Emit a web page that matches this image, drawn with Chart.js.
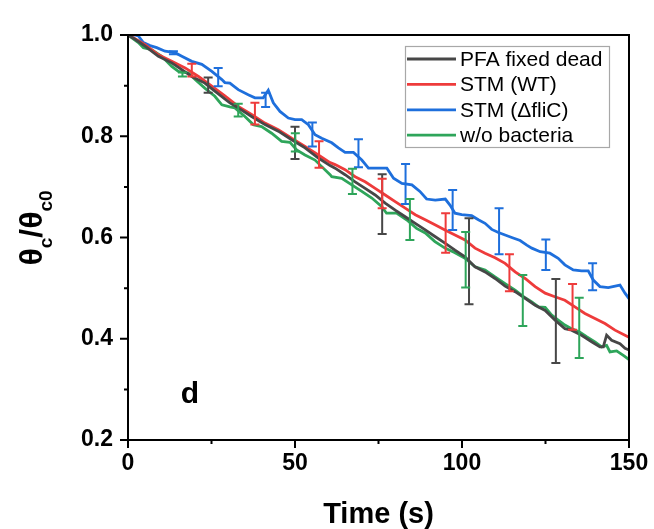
<!DOCTYPE html>
<html>
<head>
<meta charset="utf-8">
<script src="https://cdn.jsdelivr.net/npm/chart.js@4.4.1/dist/chart.umd.min.js"></script>
<style>
  html, body { margin: 0; padding: 0; background: #fff; }
  #wrap { width: 654px; height: 529px; }
</style>
</head>
<body>
<div id="wrap"><canvas id="chart" width="654" height="529"></canvas></div>
<script>
// series (time in s, theta_c / theta_c0)
const seriesLabels = ["PFA fixed dead", "STM (WT)", "STM (\u0394fliC)", "w/o bacteria"];
const seriesColors = ["#474747", "#ee3b3b", "#1e6fdc", "#2ea55a"];

const blackT = [0, 2, 5.1, 9.1, 13.1, 16, 19.1, 23, 26, 30.5, 33, 37, 41, 45, 49, 53, 57, 60.5, 62, 65, 68, 71, 74, 77, 80, 83, 86, 89, 91.9, 94.9, 97.9, 100.9, 103.9, 106.9, 109.9, 112.9, 115.9, 118.9, 121.9, 124.9, 127.8, 130.8, 132.8, 135.8, 138.8, 141.3, 142.3, 143.3, 144.8, 147.3, 148.8, 150];
const blackV = [1.0, 0.992, 0.978, 0.958, 0.945, 0.932, 0.918, 0.905, 0.889, 0.866, 0.856, 0.839, 0.823, 0.810, 0.793, 0.777, 0.757, 0.742, 0.737, 0.724, 0.710, 0.697, 0.684, 0.668, 0.654, 0.641, 0.628, 0.615, 0.602, 0.589, 0.575, 0.562, 0.542, 0.532, 0.519, 0.504, 0.493, 0.480, 0.466, 0.456, 0.437, 0.420, 0.417, 0.407, 0.394, 0.384, 0.384, 0.407, 0.397, 0.390, 0.381, 0.378];

const redT = [0, 2, 5.1, 9.1, 13.1, 17.1, 21.1, 25.1, 29, 33, 37, 41, 45, 49, 53, 57, 60.5, 62, 65, 68, 71, 74, 77, 80, 83, 86, 89, 91.9, 94.9, 97.9, 100.9, 103.9, 106.9, 109.9, 112.9, 115.9, 118.9, 121.9, 124.9, 127.8, 130.8, 133.8, 136.8, 139.8, 142.8, 145.8, 148.8, 150];
const redV = [1.0, 0.993, 0.981, 0.961, 0.948, 0.935, 0.918, 0.899, 0.880, 0.859, 0.843, 0.826, 0.813, 0.796, 0.780, 0.763, 0.748, 0.744, 0.734, 0.720, 0.710, 0.697, 0.684, 0.671, 0.658, 0.645, 0.635, 0.625, 0.615, 0.605, 0.595, 0.579, 0.569, 0.560, 0.549, 0.532, 0.519, 0.503, 0.490, 0.483, 0.476, 0.463, 0.450, 0.440, 0.430, 0.417, 0.407, 0.403];

const blueT = [0, 2, 3.1, 4.6, 6.6, 8.6, 11.1, 14.1, 16.1, 19.1, 22.1, 25.1, 28.1, 29, 30.5, 33, 36, 38, 40.5, 42, 43.5, 45.5, 48, 50, 52, 54, 56, 58, 61, 63, 65, 67.5, 70, 72, 75, 77.5, 79.5, 82, 85, 87.4, 89.4, 92, 95, 96.4, 97.9, 99.9, 102.9, 104.9, 106.9, 108.9, 110.9, 112.9, 114.9, 117.4, 119.4, 120.9, 123.4, 126.3, 128.8, 130.8, 133.3, 135.8, 137.8, 139.3, 141.3, 143.8, 147.3, 148.8, 150];
const blueV = [1.0, 1.0, 0.998, 0.985, 0.979, 0.975, 0.968, 0.965, 0.958, 0.948, 0.942, 0.928, 0.912, 0.906, 0.905, 0.892, 0.882, 0.876, 0.876, 0.891, 0.866, 0.849, 0.836, 0.833, 0.833, 0.823, 0.803, 0.796, 0.787, 0.777, 0.768, 0.768, 0.753, 0.737, 0.737, 0.737, 0.717, 0.707, 0.704, 0.691, 0.676, 0.674, 0.676, 0.664, 0.648, 0.645, 0.643, 0.635, 0.628, 0.616, 0.610, 0.605, 0.600, 0.594, 0.585, 0.579, 0.572, 0.569, 0.559, 0.546, 0.536, 0.534, 0.534, 0.516, 0.503, 0.501, 0.506, 0.490, 0.479];

const greenT = [0, 3.1, 4.6, 7.1, 10.1, 13.1, 15.1, 18.1, 20.1, 23, 26, 28.1, 30.5, 32, 35, 37.5, 40, 43, 46, 48.5, 50.5, 53, 56, 58, 60.5, 61, 64, 67, 70, 73, 76, 77.4, 80.4, 83.4, 86.4, 89, 91.9, 94.9, 97.9, 100.9, 103.9, 106.9, 109.9, 112.9, 115.9, 118.9, 120.9, 122.9, 124.9, 126.8, 128.8, 130.8, 132.8, 135.3, 137.3, 139.8, 141.8, 143.3, 144.3, 146.3, 148.3, 150];
const greenV = [1.0, 0.985, 0.975, 0.971, 0.958, 0.938, 0.928, 0.925, 0.912, 0.895, 0.879, 0.862, 0.858, 0.856, 0.839, 0.823, 0.819, 0.806, 0.790, 0.788, 0.773, 0.763, 0.753, 0.740, 0.724, 0.720, 0.717, 0.704, 0.691, 0.678, 0.661, 0.648, 0.648, 0.635, 0.618, 0.609, 0.592, 0.579, 0.570, 0.559, 0.542, 0.536, 0.522, 0.509, 0.496, 0.481, 0.473, 0.463, 0.462, 0.447, 0.437, 0.427, 0.420, 0.413, 0.404, 0.394, 0.384, 0.387, 0.374, 0.376, 0.367, 0.359];

// error bars: time, lower, upper
const blackErrT = [24, 50, 76.1, 102.1, 128.1];
const blackErrLo = [0.886, 0.755, 0.607, 0.468, 0.352];
const blackErrHi = [0.916, 0.819, 0.725, 0.638, 0.518];
const redErrT = [19.1, 38, 57.2, 76.1, 95.1, 114.2, 133.1];
const redErrLo = [0.918, 0.823, 0.738, 0.658, 0.570, 0.494, 0.418];
const redErrHi = [0.943, 0.866, 0.790, 0.716, 0.648, 0.567, 0.508];
const blueErrT = [13.6, 27, 41.2, 55.2, 69, 83.1, 97.2, 111.1, 125.1, 139.1];
const blueErrLo = [0.962, 0.899, 0.858, 0.780, 0.739, 0.666, 0.615, 0.567, 0.536, 0.496];
const blueErrHi = [0.968, 0.935, 0.886, 0.827, 0.794, 0.745, 0.694, 0.658, 0.596, 0.549];
const greenErrT = [16.3, 33, 50.1, 67.2, 84.4, 101.1, 118.2, 135.1];
const greenErrLo = [0.918, 0.839, 0.770, 0.686, 0.595, 0.501, 0.425, 0.362];
const greenErrHi = [0.926, 0.864, 0.806, 0.736, 0.676, 0.611, 0.526, 0.481];

const xMin = 0, xMax = 150, xStep = 25;
const yMin = 0.2, yMax = 1.0, yStep = 0.1;
const panelLetter = "d";
const panelPos = [15.8, 0.274];

const FONT = "'Liberation Sans', Arial, sans-serif";

function pts(t, v) {
  return t.map((x, i) => ({ x: x, y: v[i] }));
}

const lines = [pts(blackT, blackV), pts(redT, redV), pts(blueT, blueV), pts(greenT, greenV)];
const errs = [
  [blackErrT, blackErrLo, blackErrHi],
  [redErrT, redErrLo, redErrHi],
  [blueErrT, blueErrLo, blueErrHi],
  [greenErrT, greenErrLo, greenErrHi],
];

const datasets = lines.map((d, i) => ({
  label: seriesLabels[i],
  data: d,
  borderColor: seriesColors[i],
  backgroundColor: seriesColors[i],
  borderWidth: 2.8,
  pointRadius: 0,
  tension: 0,
}));

// error bars with caps, one color per series
const errorBars = {
  id: "errorBars",
  afterDatasetsDraw(chart) {
    const { ctx, scales } = chart;
    ctx.save();
    ctx.lineWidth = 2;
    errs.forEach((e, i) => {
      ctx.strokeStyle = seriesColors[i];
      e[0].forEach((t, j) => {
        const x = scales.x.getPixelForValue(t);
        const y1 = scales.y.getPixelForValue(e[1][j]);
        const y2 = scales.y.getPixelForValue(e[2][j]);
        ctx.beginPath();
        ctx.moveTo(x, y1); ctx.lineTo(x, y2);
        ctx.moveTo(x - 4.5, y1); ctx.lineTo(x + 4.5, y1);
        ctx.moveTo(x - 4.5, y2); ctx.lineTo(x + 4.5, y2);
        ctx.stroke();
      });
    });
    ctx.restore();
  },
};

// frame, outward ticks, titles, legend, panel letter
const decor = {
  id: "decor",
  afterDraw(chart) {
    const { ctx, chartArea: a, scales } = chart;
    ctx.save();
    ctx.strokeStyle = "#000";
    ctx.lineWidth = 2;
    ctx.strokeRect(a.left, a.top, a.right - a.left, a.bottom - a.top);

    ctx.beginPath();
    scales.x.ticks.forEach((tk) => {
      const x = scales.x.getPixelForValue(tk.value);
      const len = tk.value % 50 === 0 ? 8 : 4;
      ctx.moveTo(x, a.bottom); ctx.lineTo(x, a.bottom + len);
    });
    scales.y.ticks.forEach((tk) => {
      const y = scales.y.getPixelForValue(tk.value);
      const len = Math.round(tk.value * 10) % 2 === 0 ? 8 : 4;
      ctx.moveTo(a.left, y); ctx.lineTo(a.left - len, y);
    });
    ctx.stroke();

    // x title
    ctx.fillStyle = "#000";
    ctx.font = "bold 29px " + FONT;
    ctx.textAlign = "center";
    ctx.textBaseline = "alphabetic";
    ctx.fillText("Time (s)", (a.left + a.right) / 2, 523);

    // y title with subscripts
    const parts = [["\u03b8", 0], ["c", 1], ["/\u03b8", 0], ["c0", 1]];
    const big = "bold 32px " + FONT, small = "bold 19px " + FONT;
    let total = 0;
    parts.forEach((p) => { ctx.font = p[1] ? small : big; total += ctx.measureText(p[0]).width; });
    ctx.translate(42, 228);
    ctx.rotate(-Math.PI / 2);
    ctx.textAlign = "left";
    let px = -total / 2;
    parts.forEach((p) => {
      ctx.font = p[1] ? small : big;
      ctx.fillText(p[0], px, p[1] ? 10 : 0);
      px += ctx.measureText(p[0]).width;
    });
    ctx.setTransform(1, 0, 0, 1, 0, 0);

    // panel letter
    ctx.font = "bold 30px " + FONT;
    ctx.textAlign = "left";
    ctx.fillText(panelLetter, scales.x.getPixelForValue(panelPos[0]), scales.y.getPixelForValue(panelPos[1]));

    // legend
    const lx = 405, ly = 46, lw = 204, lh = 101;
    ctx.fillStyle = "#fff";
    ctx.fillRect(lx, ly, lw, lh);
    ctx.strokeStyle = "#a8a8a8";
    ctx.lineWidth = 1.2;
    ctx.strokeRect(lx + 0.5, ly + 0.5, lw, lh);
    ctx.font = "21px " + FONT;
    ctx.textBaseline = "middle";
    chart.data.datasets.forEach((ds, i) => {
      const y = 59 + i * 25.4;
      ctx.strokeStyle = ds.borderColor;
      ctx.lineWidth = 2.8;
      ctx.beginPath();
      ctx.moveTo(407, y); ctx.lineTo(456, y);
      ctx.stroke();
      ctx.fillStyle = "#000";
      ctx.fillText(ds.label, 460, y + 1);
    });
    ctx.restore();
  },
};

new Chart(document.getElementById("chart"), {
  type: "line",
  data: { datasets: datasets },
  options: {
    responsive: false,
    animation: false,
    events: [],
    layout: { padding: { top: 35, right: 25, left: 0, bottom: 0 } },
    plugins: { legend: { display: false }, tooltip: { enabled: false } },
    scales: {
      x: {
        type: "linear",
        min: xMin,
        max: xMax,
        grid: { display: false, drawTicks: false },
        border: { display: false },
        ticks: {
          stepSize: xStep,
          padding: 10,
          color: "#000",
          maxRotation: 0,
          autoSkip: false,
          font: { family: FONT, size: 23, weight: "bold" },
          callback: (v) => (v % 50 === 0 ? String(v) : ""),
        },
        afterFit(s) { s.height = 89; s.paddingLeft = 0; s.paddingRight = 0; },
      },
      y: {
        type: "linear",
        min: yMin,
        max: yMax,
        grid: { display: false, drawTicks: false },
        border: { display: false },
        ticks: {
          stepSize: yStep,
          padding: 15,
          color: "#000",
          autoSkip: false,
          font: { family: FONT, size: 23, weight: "bold" },
          callback: (v) => (Math.round(v * 10) % 2 === 0 ? v.toFixed(1) : ""),
        },
        afterFit(s) { s.width = 128; s.paddingTop = 0; s.paddingBottom = 0; },
      },
    },
  },
  plugins: [errorBars, decor],
});
</script>
</body>
</html>
